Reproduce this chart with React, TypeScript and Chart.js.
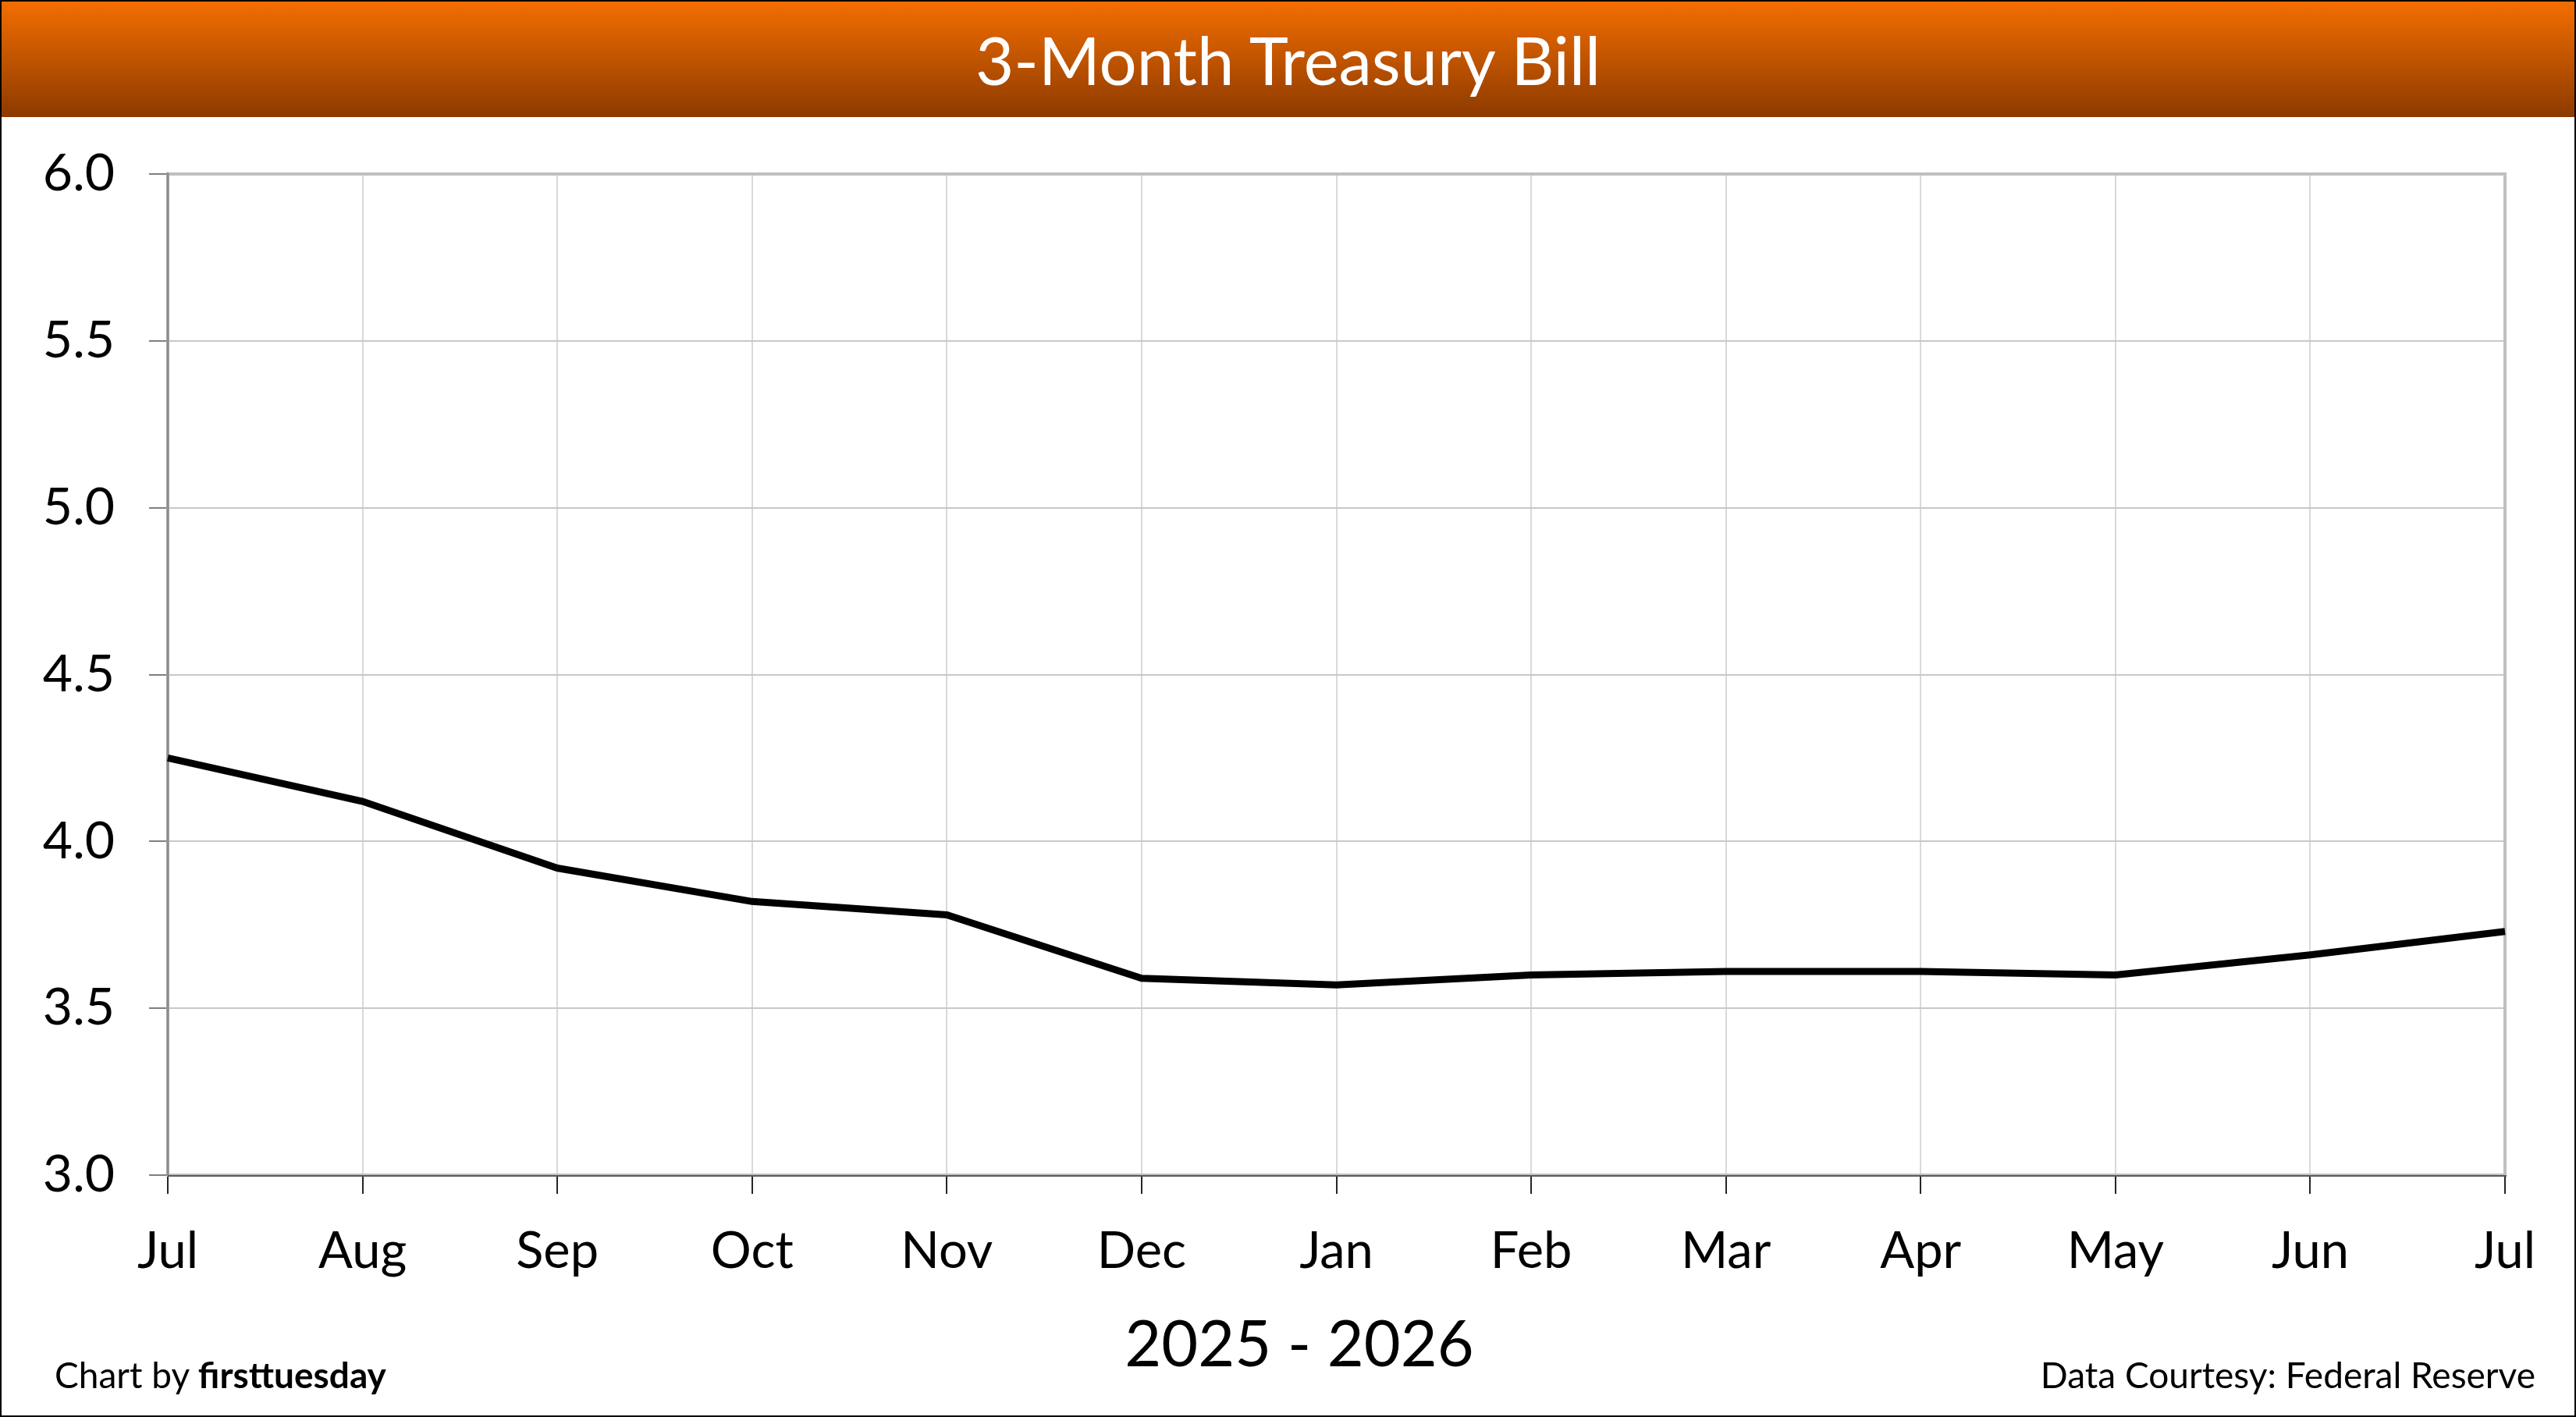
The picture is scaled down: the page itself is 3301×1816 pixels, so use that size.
import { useEffect, useRef } from "react"
import { Chart, registerables } from "chart.js"

Chart.register(...registerables)

// Datos (tasa del T-Bill a 3 meses, %)
const months = ["Jul", "Aug", "Sep", "Oct", "Nov", "Dec", "Jan", "Feb", "Mar", "Apr", "May", "Jun", "Jul"]
const billRates = [4.25, 4.12, 3.92, 3.82, 3.78, 3.59, 3.57, 3.6, 3.61, 3.61, 3.6, 3.66, 3.73]
const yTicks = [3.0, 3.5, 4.0, 4.5, 5.0, 5.5, 6.0]

const FONT = "Lato, 'Open Sans', sans-serif"
const CANVAS_W = 3297
const CANVAS_H = 1664

// Marco del área de trazado (borde gris claro arriba/derecha, ejes más oscuros)
const plotFrame = {
  id: "plotFrame",
  beforeDatasetsDraw(chart: Chart) {
    const { ctx, chartArea: a } = chart
    ctx.save()
    ctx.strokeStyle = "#BFBFBF"
    ctx.lineWidth = 4
    ctx.strokeRect(a.left, a.top, a.right - a.left, a.bottom - a.top)
    ctx.strokeStyle = "#8C8C8C"
    ctx.lineWidth = 3
    ctx.beginPath()
    ctx.moveTo(a.left, a.top - 2)
    ctx.lineTo(a.left, a.bottom + 1)
    ctx.stroke()
    ctx.strokeStyle = "#595959"
    ctx.lineWidth = 2
    ctx.beginPath()
    ctx.moveTo(a.left, a.bottom + 1)
    ctx.lineTo(a.right + 2, a.bottom + 1)
    ctx.stroke()
    ctx.restore()
  },
}

export default function App() {
  const chartRef = useRef<HTMLCanvasElement>(null)
  const chartInstance = useRef<Chart | null>(null)

  useEffect(() => {
    document.body.style.margin = "0"
    if (!chartRef.current) return
    if (chartInstance.current) chartInstance.current.destroy()
    const ctx = chartRef.current.getContext("2d")
    if (!ctx) return

    chartInstance.current = new Chart(ctx, {
      type: "line",
      data: {
        labels: months,
        datasets: [
          {
            label: "3-Month Treasury Bill",
            data: billRates,
            borderColor: "#000000",
            borderWidth: 9,
            pointRadius: 0,
            tension: 0,
            fill: false,
            clip: false,
          },
        ],
      },
      options: {
        responsive: false,
        devicePixelRatio: 1,
        animation: false,
        layout: { padding: { left: 0, top: 73, right: 89, bottom: 0 } },
        plugins: {
          legend: { display: false },
          tooltip: { enabled: false },
          title: { display: false },
        },
        scales: {
          x: {
            type: "category",
            offset: false,
            border: { display: false },
            grid: {
              color: "#D9D9D9",
              lineWidth: 2,
              drawTicks: true,
              tickLength: 24,
              tickColor: "#262626",
              tickWidth: 2,
            },
            ticks: {
              color: "#000000",
              font: { family: FONT, size: 65 },
              padding: 35,
              maxRotation: 0,
              autoSkip: false,
            },
            afterFit: (scale: any) => {
              scale.height = 308
            },
          },
          y: {
            min: 3,
            max: 6,
            border: { display: false },
            afterBuildTicks: (scale: any) => {
              scale.ticks = yTicks.map((v) => ({ value: v }))
            },
            grid: {
              color: "#C8C8C8",
              lineWidth: 2,
              drawTicks: true,
              tickLength: 24,
              tickColor: "#7F7F7F",
              tickWidth: 2,
            },
            ticks: {
              color: "#000000",
              font: { family: FONT, size: 66 },
              padding: 44,
              callback: (value: any) => Number(value).toFixed(1),
            },
            afterFit: (scale: any) => {
              scale.width = 213
              // la posición vertical la fija layout.padding
              scale.paddingTop = 0
              scale.paddingBottom = 0
            },
          },
        },
      },
      plugins: [plotFrame],
    })

    return () => {
      if (chartInstance.current) {
        chartInstance.current.destroy()
        chartInstance.current = null
      }
    }
  }, [])

  return (
    <div
      style={{
        position: "fixed",
        top: 0,
        left: 0,
        width: 3301,
        height: 1816,
        boxSizing: "border-box",
        border: "2px solid #000",
        background: "#fff",
        fontFamily: FONT,
        overflow: "hidden",
      }}
    >
      <div
        style={{
          position: "absolute",
          top: 0,
          left: 0,
          width: CANVAS_W,
          height: 148,
          background: "linear-gradient(to bottom, #F46E00, #8C3A00)",
          display: "flex",
          alignItems: "center",
          justifyContent: "center",
          color: "#fff",
          fontSize: 85,
        }}
      >
        3-Month Treasury Bill
      </div>
      <canvas
        ref={chartRef}
        width={CANVAS_W}
        height={CANVAS_H}
        style={{ position: "absolute", top: 148, left: 0, width: CANVAS_W, height: CANVAS_H }}
      />
      <div
        style={{
          position: "absolute",
          top: 1677,
          left: 663,
          width: 2000,
          textAlign: "center",
          fontSize: 81,
          lineHeight: 1,
          color: "#000",
        }}
      >
        2025 - 2026
      </div>
      <div
        style={{
          position: "absolute",
          top: 1737,
          left: 68,
          fontSize: 46,
          lineHeight: 1,
          color: "#000",
        }}
      >
        Chart by <b>firsttuesday</b>
      </div>
      <div
        style={{
          position: "absolute",
          top: 1737,
          right: 50,
          fontSize: 46,
          lineHeight: 1,
          color: "#000",
        }}
      >
        Data Courtesy: Federal Reserve
      </div>
    </div>
  )
}
